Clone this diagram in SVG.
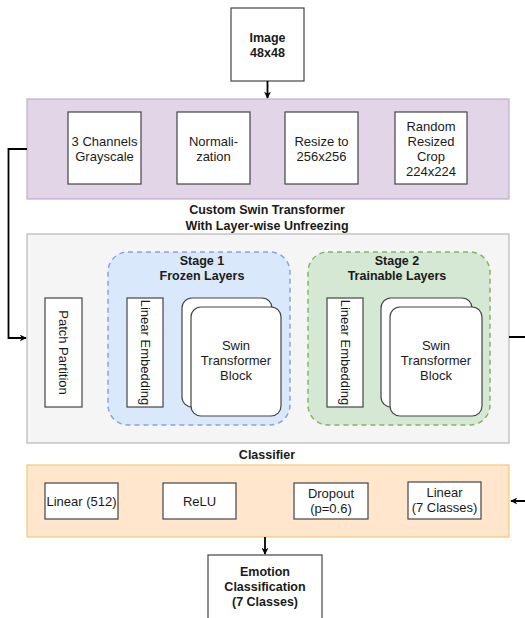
<svg xmlns="http://www.w3.org/2000/svg" width="525" height="618" viewBox="0 0 525 618">
<defs>
<marker id="arr" viewBox="0 0 10 10" refX="9" refY="5" markerWidth="7" markerHeight="7" orient="auto" markerUnits="userSpaceOnUse">
<path d="M0,0 L10,5 L0,10 L3,5 Z" fill="#000"/>
</marker>
<style>
text{font-family:"Liberation Sans",Arial,Helvetica,sans-serif;font-size:13px;fill:#1a1a1a;text-anchor:middle}
.b{font-weight:bold;font-size:12.5px}
.box{fill:#fff;stroke:#444;stroke-width:1.2}
.conn{fill:none;stroke:#000;stroke-width:1.8}
</style>
</defs>
<rect width="525" height="618" fill="#fff"/>

<g id="image">
<rect class="box" x="231" y="8" width="73" height="73"/>
<text class="b" x="267.5" y="42">Image</text>
<text class="b" x="267.5" y="57">48x48</text>
</g>

<g id="preprocessing">
<rect x="27" y="99" width="482" height="100" fill="#e1d5e7" stroke="#b89fc6" stroke-width="1"/>
<g id="grayscale"><rect class="box" x="68" y="112" width="73" height="72"/>
<text x="104.5" y="146">3 Channels</text><text x="104.5" y="161">Grayscale</text></g>
<g id="normalization"><rect class="box" x="177" y="112" width="73" height="72"/>
<text x="213.5" y="146">Normali-</text><text x="213.5" y="161">zation</text></g>
<g id="resize"><rect class="box" x="285" y="112" width="73" height="72"/>
<text x="321.5" y="146">Resize to</text><text x="321.5" y="161">256x256</text></g>
<g id="crop"><rect class="box" x="395" y="112" width="72" height="72"/>
<text x="431" y="131">Random</text><text x="431" y="146">Resized</text><text x="431" y="161">Crop</text><text x="431" y="176">224x224</text></g>
</g>

<g id="swin">
<text class="b" x="267" y="214">Custom Swin Transformer</text>
<text class="b" x="267" y="230">With Layer-wise Unfreezing</text>
<rect x="27" y="234" width="482" height="209" fill="#f5f5f5" stroke="#aaa" stroke-width="1"/>
<g id="patch"><rect class="box" x="45" y="298" width="37" height="109"/>
<text transform="translate(59,352.5) rotate(90)">Patch Partition</text></g>

<g id="stage1">
<rect x="108" y="252" width="182" height="173" rx="20" fill="#dae8fc" stroke="#7ea6e0" stroke-width="1.5" stroke-dasharray="5,4"/>
<text class="b" x="202" y="265">Stage 1</text>
<text class="b" x="202" y="280">Frozen Layers</text>
<rect class="box" x="127" y="298" width="36" height="109"/>
<text transform="translate(141,352.5) rotate(90)">Linear Embedding</text>
<rect class="box" x="182" y="298" width="90" height="109" rx="10"/>
<rect class="box" x="191" y="307" width="90" height="109" rx="10"/>
<text x="236" y="350">Swin</text><text x="236" y="365">Transformer</text><text x="236" y="380">Block</text>
</g>

<g id="stage2">
<rect x="308" y="252" width="182" height="173" rx="20" fill="#d5e8d4" stroke="#82b366" stroke-width="1.5" stroke-dasharray="5,4"/>
<text class="b" x="397" y="265">Stage 2</text>
<text class="b" x="397" y="280">Trainable Layers</text>
<rect class="box" x="327" y="298" width="36" height="109"/>
<text transform="translate(341,352.5) rotate(90)">Linear Embedding</text>
<rect class="box" x="381" y="298" width="91" height="109" rx="10"/>
<rect class="box" x="390" y="307" width="92" height="109" rx="10"/>
<text x="436" y="350">Swin</text><text x="436" y="365">Transformer</text><text x="436" y="380">Block</text>
</g>
</g>

<g id="classifier">
<text class="b" x="267" y="459">Classifier</text>
<rect x="27" y="465" width="482" height="72" fill="#ffe6cc" stroke="#f0c060" stroke-width="1"/>
<g id="linear512"><rect class="box" x="45" y="483" width="73" height="36"/>
<text x="81.5" y="506">Linear (512)</text></g>
<g id="relu"><rect class="box" x="163" y="483" width="73" height="36"/>
<text x="199.5" y="506">ReLU</text></g>
<g id="dropout"><rect class="box" x="294" y="483" width="74" height="36"/>
<text x="331" y="498">Dropout</text><text x="331" y="513">(p=0.6)</text></g>
<g id="linear7"><rect class="box" x="408" y="482" width="73" height="37"/>
<text x="444.5" y="497">Linear</text><text x="444.5" y="512">(7 Classes)</text></g>
</g>

<g id="emotion">
<rect class="box" x="208" y="555" width="114" height="70"/>
<text class="b" x="265" y="576">Emotion</text>
<text class="b" x="265" y="591">Classification</text>
<text class="b" x="265" y="606">(7 Classes)</text>
</g>

<g id="connectors">
<path class="conn" d="M267.5,81 V98" marker-end="url(#arr)"/>
<path class="conn" d="M27,149 H8.5 V338 H26" marker-end="url(#arr)"/>
<path class="conn" d="M509,337 H535 V501 H511" marker-end="url(#arr)"/>
<path class="conn" d="M265,537 V554" marker-end="url(#arr)"/>
</g>
</svg>
